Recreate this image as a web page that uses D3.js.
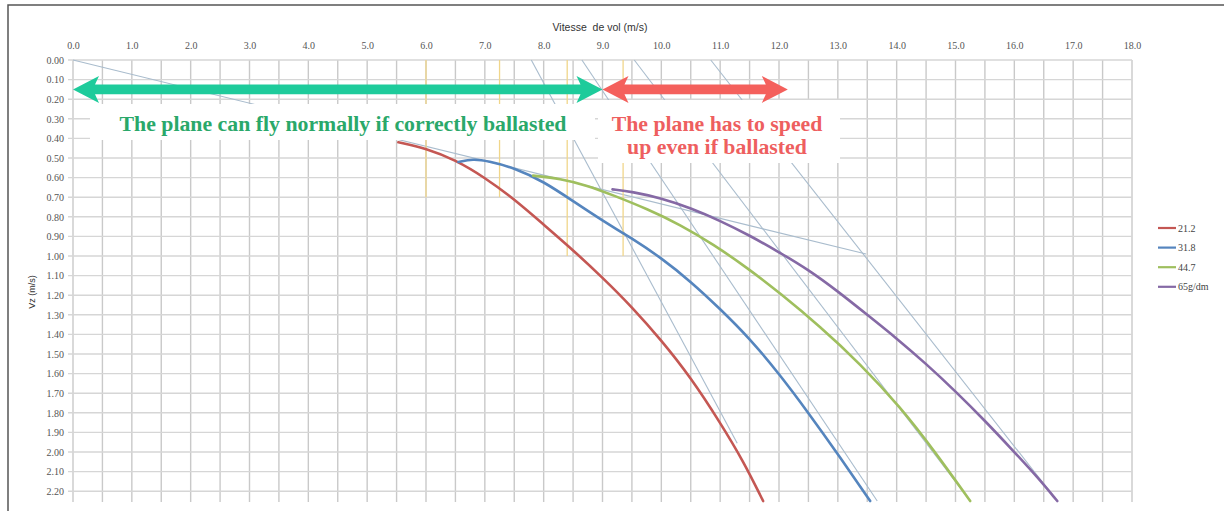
<!DOCTYPE html>
<html><head><meta charset="utf-8">
<script src="https://cdn.jsdelivr.net/npm/d3@7"></script>
<style>html,body{margin:0;padding:0;background:#fff;overflow:hidden}</style>
</head><body><svg id="c" width="1224" height="511"></svg>
<script>
// ---- data ----
const xTicks = d3.range(0, 18.01, 1);
const yTicks = d3.range(0, 2.201, 0.1);
const seriesNames = ["21.2", "31.8", "44.7", "65g/dm"];
const seriesColors = ["#c45753", "#5585be", "#9fbf5e", "#8569a5"];
const red212 = [[5.53,0.42],[6.0,0.45],[6.5,0.51],[7.0,0.60],[7.5,0.71],[8.0,0.84],[8.5,0.97],[9.0,1.11],[9.5,1.26],[10.0,1.43],[10.5,1.62],[11.0,1.85],[11.4,2.05],[11.73,2.25]];
const blue318 = [[6.55,0.52],[6.8,0.505],[7.05,0.515],[7.5,0.55],[8.0,0.62],[8.5,0.72],[9.0,0.82],[9.5,0.91],[10.0,1.01],[10.5,1.13],[11.0,1.27],[11.5,1.42],[12.0,1.60],[12.5,1.80],[13.0,2.01],[13.55,2.25]];
const green447 = [[7.82,0.59],[8.28,0.605],[8.74,0.64],[9.18,0.69],[9.76,0.76],[10.32,0.84],[10.88,0.94],[11.46,1.06],[12.02,1.19],[12.7,1.36],[13.38,1.55],[14.06,1.77],[14.63,1.99],[15.25,2.25]];
const purple65 = [[9.17,0.66],[9.5,0.672],[10.0,0.705],[10.5,0.755],[11.0,0.82],[11.5,0.895],[12.0,0.98],[12.5,1.07],[13.0,1.18],[13.5,1.30],[14.0,1.42],[14.5,1.55],[15.0,1.69],[15.5,1.84],[16.0,2.0],[16.4,2.13],[16.73,2.25]];
const series = [red212, blue318, green447, purple65];
// thin construction lines [x1,y1,x2,y2]
const tangentLines = [[0,0,13.48,0.99],[7.79,0,11.29,1.955],[8.65,0,13.67,2.25],[9.54,0,15.25,2.25],[10.84,0,16.73,2.25]];
// vertical yellow markers [x, yEnd]
const markers = [[6.0,0.70],[7.25,0.70],[8.4,1.0],[9.35,1.0]];
// annotation arrows [xStart, xEnd, y]
const arrowGreen = [0, 9.0, 0.15];
const arrowRed = [9.0, 12.15, 0.15];
const textGreen = "The plane can fly normally if correctly ballasted";
const textRed = ["The plane has to speed", "up even if ballasted"];

// ---- chart ----
const svg = d3.select("#c");
const x = d3.scaleLinear().domain([0, 18]).range([73, 1132]);
const y = d3.scaleLinear().domain([0, 2.255]).range([60, 502]);

// frame
svg.append("path").attr("d","M8,515 L8,5 L1230,5").attr("fill","none").attr("stroke","#555").attr("stroke-width",1.5);

// grid
const g = svg.append("g");
g.selectAll(".vg").data(d3.range(0, 18.01, 0.5)).join("line")
  .attr("x1", d=>x(d)).attr("x2", d=>x(d)).attr("y1", y(0)).attr("y2", y(2.255))
  .attr("stroke", "#c9c9c9").attr("stroke-width", 1.4);
g.selectAll(".hg").data(yTicks).join("line")
  .attr("x1", 68).attr("x2", x(18)).attr("y1", d=>y(d)).attr("y2", d=>y(d))
  .attr("stroke", "#d6d6d6").attr("stroke-width", 1.4);

// axes labels
const xAxis = d3.axisTop(x).tickValues(xTicks).tickFormat(d3.format(".1f")).tickSize(0).tickPadding(0);
const xa = svg.append("g").attr("transform","translate(0,49)").call(xAxis);
xa.select(".domain").remove();
xa.selectAll("text").attr("font-family","Liberation Serif").attr("font-size",10).attr("fill","#555");
const yAxis = d3.axisLeft(y).tickValues(yTicks).tickFormat(d3.format(".2f")).tickSize(0).tickPadding(0);
const ya = svg.append("g").attr("transform","translate(64,0)").call(yAxis);
ya.select(".domain").remove();
ya.selectAll("text").attr("font-family","Liberation Serif").attr("font-size",10).attr("fill","#555");

svg.append("text").attr("x", 600).attr("y", 31).attr("text-anchor","middle")
  .attr("font-family","Liberation Sans").attr("font-size",10.5).attr("fill","#333")
  .attr("xml:space","preserve").text("Vitesse  de vol (m/s)");
svg.append("text").attr("transform","translate(35,292) rotate(-90)").attr("text-anchor","middle")
  .attr("font-family","Liberation Sans").attr("font-size",9).attr("fill","#333").text("Vz (m/s)");

// thin lines
svg.append("g").selectAll("line").data(tangentLines).join("line")
  .attr("x1", d=>x(d[0])).attr("y1", d=>y(d[1])).attr("x2", d=>x(d[2])).attr("y2", d=>y(d[3]))
  .attr("stroke", "#a9bccd").attr("stroke-width", 1.1);
svg.append("g").selectAll("line").data(markers).join("line")
  .attr("x1", d=>x(d[0])).attr("x2", d=>x(d[0])).attr("y1", y(0)).attr("y2", d=>y(d[1]))
  .attr("stroke", "#f0d68a").attr("stroke-width", 1.3);

// curves
const line = d3.line().x(d=>x(d[0])).y(d=>y(d[1])).curve(d3.curveBasis);
svg.append("g").selectAll("path").data(series).join("path")
  .attr("d", line).attr("fill","none").attr("stroke",(d,i)=>seriesColors[i]).attr("stroke-width",2.6)
  .attr("stroke-linecap","round");

// legend
const lg = svg.append("g");
seriesNames.forEach((n,i)=>{
  const yy = 228 + i*19.6;
  lg.append("line").attr("x1",1158).attr("x2",1176).attr("y1",yy).attr("y2",yy)
    .attr("stroke",seriesColors[i]).attr("stroke-width",2.2);
  lg.append("text").attr("x",1178).attr("y",yy+3.5).attr("font-family","Liberation Serif")
    .attr("font-size",10).attr("fill","#444").text(n);
});

// annotation boxes
svg.append("rect").attr("x",90).attr("y",104).attr("width",505).attr("height",36).attr("fill","#fff");
svg.append("rect").attr("x",598).attr("y",100).attr("width",242).attr("height",63).attr("fill","#fff");

function dblArrow(a, color){
  const x1 = x(a[0]), x2 = x(a[1]), yc = y(a[2]);
  const hl = 26, hh = 13.5, sh = 4.8;
  const p = `M${x1},${yc} L${x1+hl},${yc-hh} L${x1+hl-4},${yc-sh} L${x2-hl+4},${yc-sh} L${x2-hl},${yc-hh} L${x2},${yc} L${x2-hl},${yc+hh} L${x2-hl+4},${yc+sh} L${x1+hl-4},${yc+sh} L${x1+hl},${yc+hh} Z`;
  svg.append("path").attr("d",p).attr("fill",color);
}
dblArrow(arrowGreen, "#1ecb9b");
dblArrow(arrowRed, "#f4605c");

svg.append("text").attr("x",343).attr("y",131).attr("text-anchor","middle")
  .attr("font-family","Liberation Serif").attr("font-weight","bold").attr("font-size",21.8)
  .attr("fill","#2aa86a").text(textGreen);
textRed.forEach((t,i)=>{
  svg.append("text").attr("x",717).attr("y",131+i*23).attr("text-anchor","middle")
    .attr("font-family","Liberation Serif").attr("font-weight","bold").attr("font-size",21.8)
    .attr("fill","#ee5f5f").text(t);
});
</script></body></html>
